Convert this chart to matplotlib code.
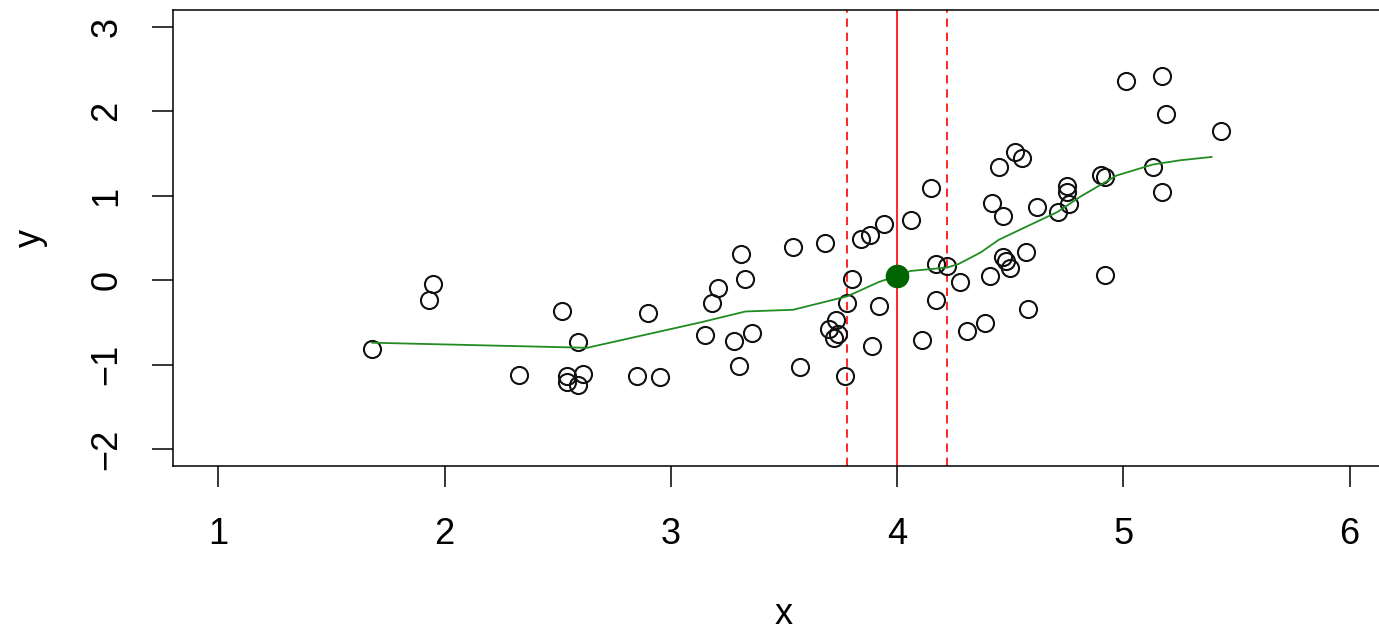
import numpy as np
import matplotlib.pyplot as plt

plt.rcParams['font.family'] = ['Liberation Sans', 'DejaVu Sans']

# observed sample
x_obs = [1.68, 1.93, 1.95, 2.33, 2.52, 2.54, 2.54, 2.59, 2.59, 2.61,
         2.85, 2.90, 2.95, 3.15, 3.18, 3.21, 3.28, 3.30, 3.31, 3.33,
         3.36, 3.54, 3.57, 3.68, 3.70, 3.72, 3.73, 3.74, 3.77, 3.78,
         3.80, 3.84, 3.88, 3.92, 3.89, 3.94, 4.06, 4.11, 4.15, 4.17,
         4.17, 4.22, 4.28, 4.31, 4.39, 4.41, 4.42, 4.45, 4.47, 4.47,
         4.48, 4.50, 4.52, 4.55, 4.57, 4.58, 4.62, 4.71, 4.75, 4.75,
         4.76, 4.90, 4.92, 4.92, 5.01, 5.13, 5.17, 5.17, 5.19, 5.43]
y_obs = [-0.82, -0.23, -0.05, -1.12, -0.37, -1.13, -1.21, -0.73, -1.24, -1.11,
         -1.13, -0.39, -1.14, -0.65, -0.27, -0.09, -0.72, -1.01, 0.31, 0.01,
         -0.62, 0.39, -1.03, 0.44, -0.58, -0.69, -0.47, -0.64, -1.13, -0.27,
         0.02, 0.49, 0.54, -0.30, -0.78, 0.67, 0.71, -0.71, 1.09, 0.19,
         -0.23, 0.17, -0.02, -0.60, -0.51, 0.05, 0.92, 1.34, 0.76, 0.28,
         0.23, 0.14, 1.52, 1.45, 0.33, -0.34, 0.87, 0.81, 1.04, 1.12,
         0.90, 1.25, 1.22, 0.06, 2.36, 1.34, 2.42, 1.05, 1.97, 1.77]

# local fit curve
fit_x = [1.68, 2.63, 3.13, 3.33, 3.54, 3.78, 3.92, 4.00, 4.06, 4.22,
         4.27, 4.37, 4.45, 4.71, 4.81, 4.97, 5.13, 5.25, 5.39]
fit_y = [-0.74, -0.80, -0.50, -0.37, -0.35, -0.19, -0.02, 0.05, 0.11, 0.15,
         0.19, 0.33, 0.48, 0.81, 0.99, 1.24, 1.37, 1.42, 1.46]

# target point and window
x0, y0 = 4.0, 0.05
win_lo, win_hi = 3.78, 4.22

fig = plt.figure(figsize=(13.79, 6.33), dpi=100)
ax = fig.add_axes([0.1255, 0.2638, 0.886, 0.7204])

ax.plot(x_obs, y_obs, 'o', ms=12.3, mfc='none', mec='#111111', mew=1.5, zorder=3)
ax.plot(fit_x, fit_y, color='#228b22', lw=1.3, zorder=4)
ax.axvline(x0, color='red', lw=1.2, zorder=2)
ax.axvline(win_lo, color='red', lw=1.2, ls=(0, (5, 3.5)), zorder=2)
ax.axvline(win_hi, color='red', lw=1.2, ls=(0, (5, 3.5)), zorder=2)
ax.plot([x0], [y0], 'o', ms=16, color='#006400', zorder=5)

ax.set_xlim(0.8, 6.2)
ax.set_ylim(-2.2, 3.2)
ax.set_xticks([1, 2, 3, 4, 5, 6])
ax.set_yticks([-2, -1, 0, 1, 2, 3])
ax.set_yticklabels(['\u22122', '\u22121', '0', '1', '2', '3'],
                   rotation=90, va='center')

ax.spines['right'].set_visible(False)
for s in ['top', 'left', 'bottom']:
    ax.spines[s].set_linewidth(1.1)
ax.tick_params(length=15, width=1.1, labelsize=26)
ax.tick_params(axis='x', pad=22)
ax.tick_params(axis='y', pad=20)

ax.set_xlabel('x', fontsize=26, labelpad=32)
ax.set_ylabel('y', fontsize=26, labelpad=30)

fig.savefig('out.png', dpi=100)
